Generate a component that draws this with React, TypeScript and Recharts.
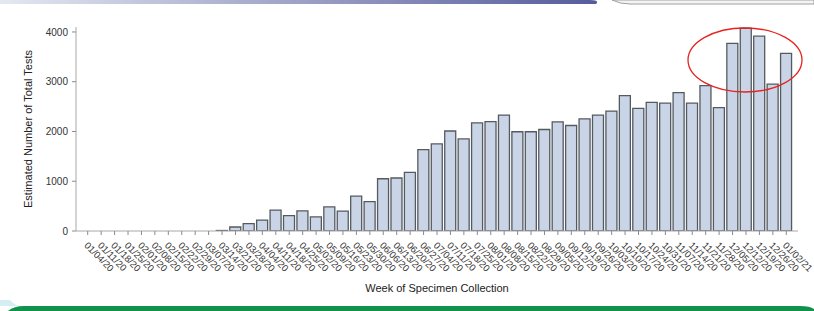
import React from "react";
import { BarChart, Bar, XAxis, YAxis } from "recharts";

const weeks = [
  "01/04/20", "01/11/20", "01/18/20", "01/25/20", "02/01/20", "02/08/20", "02/15/20", "02/22/20",
  "02/29/20", "03/07/20", "03/14/20", "03/21/20", "03/28/20", "04/04/20", "04/11/20", "04/18/20",
  "04/25/20", "05/02/20", "05/09/20", "05/16/20", "05/23/20", "05/30/20", "06/06/20", "06/13/20",
  "06/20/20", "06/27/20", "07/04/20", "07/11/20", "07/18/20", "07/25/20", "08/01/20", "08/08/20",
  "08/15/20", "08/22/20", "08/29/20", "09/05/20", "09/12/20", "09/19/20", "09/26/20", "10/03/20",
  "10/10/20", "10/17/20", "10/24/20", "10/31/20", "11/07/20", "11/14/20", "11/21/20", "11/28/20",
  "12/05/20", "12/12/20", "12/19/20", "12/26/20", "01/02/21",
];

const totalTests = [
  0, 0, 0, 0, 0, 0, 0, 0,
  0, 0, 10, 80, 150, 220, 420, 310,
  405, 285, 485, 400, 700, 590, 1050, 1065,
  1180, 1635, 1750, 2010, 1850, 2175, 2200, 2330,
  1995, 1995, 2040, 2195, 2120, 2255, 2330, 2410,
  2720, 2465, 2585, 2570, 2780, 2570, 2920, 2480,
  3770, 4075, 3915, 2950, 3570,
];

const yTicks = [0, 1000, 2000, 3000, 4000];

const data = weeks.map((week, i) => ({ week, tests: totalTests[i] }));

const FONT = "'Liberation Sans', Arial, sans-serif";

// rotated week labels, reading down-right from the tick
function WeekTick({ x, y, payload }: any) {
  const tx = x - 4;
  const ty = y + 9;
  return (
    <text x={tx} y={ty} transform={`rotate(45 ${tx} ${ty})`} textAnchor="start" fontSize={9.5} fill="#333" fontFamily={FONT}>
      {payload.value}
    </text>
  );
}

export default function App() {
  return (
    <div style={{ position: "fixed", left: 0, top: 0, width: 814, height: 311, background: "#fff", overflow: "hidden" }}>
      <svg width={814} height={311} style={{ position: "absolute", left: 0, top: 0 }}>
        <defs>
          <linearGradient id="topBar" x1="0" x2="1" y1="0" y2="0">
            <stop offset="0" stopColor="#e4e8f1" />
            <stop offset="1" stopColor="#565b9c" />
          </linearGradient>
        </defs>
        <path d="M0 0 H590 Q600 0 596 4 H0 Z" fill="url(#topBar)" />
        <path d="M612 0 H814 V4 H630 Q620 4 612 0 Z" fill="#f4f4f4" stroke="#a0a0a0" strokeWidth={1} />
        <path d="M0 300 H10 Q14 305 20 306 H0 Z" fill="#d6eef3" />
        <path d="M8 311 Q14 306 24 306 H800 Q810 306 814 309 V311 Z" fill="#10924a" />
      </svg>
      <div style={{ position: "absolute", left: 0, top: 0 }}>
        <BarChart width={814} height={311} data={data} margin={{ top: 27, right: 16, bottom: 30, left: 16 }} barSize={11}>
          <XAxis
            dataKey="week"
            interval={0}
            tick={<WeekTick />}
            tickSize={4}
            tickMargin={2}
            height={50}
            padding={{ left: 5, right: 5 }}
            stroke="#a8a8a8"
            tickLine={{ stroke: "#8a8a8a" }}
          />
          <XAxis xAxisId="top" orientation="top" dataKey="week" tick={false} tickLine={false} height={0} stroke="#a8a8a8" />
          <YAxis
            domain={[0, 4100]}
            ticks={yTicks}
            allowDataOverflow
            width={60}
            tickSize={4}
            tickMargin={4}
            stroke="#a8a8a8"
            tickLine={{ stroke: "#8a8a8a" }}
            tick={{ fontSize: 10, fill: "#333", fontFamily: FONT }}
          />
          <YAxis yAxisId="right" orientation="right" tick={false} tickLine={false} width={0} stroke="#a8a8a8" />
          <Bar dataKey="tests" fill="#c9d5e6" stroke="#555a60" strokeWidth={1.3} isAnimationActive={false} />
        </BarChart>
      </div>
      <svg width={814} height={311} style={{ position: "absolute", left: 0, top: 0, pointerEvents: "none" }}>
        <ellipse cx={745} cy={60} rx={57} ry={32} fill="none" stroke="#e52420" strokeWidth={1.3} />
        <text x={437} y={292} textAnchor="middle" fontSize={11} fill="#222" fontFamily={FONT}>
          Week of Specimen Collection
        </text>
        <text x={32} y={129} transform="rotate(-90 32 129)" textAnchor="middle" fontSize={11} fill="#222" fontFamily={FONT}>
          Estimated Number of Total Tests
        </text>
      </svg>
    </div>
  );
}
